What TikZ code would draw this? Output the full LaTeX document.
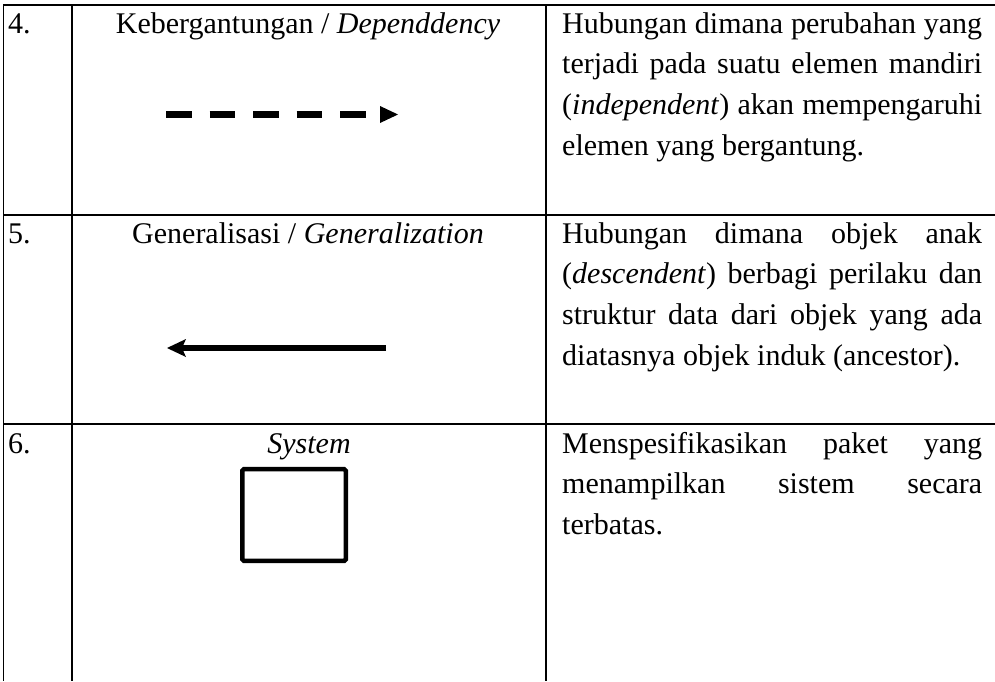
\documentclass[tikz,border=0pt]{standalone}
\usepackage{fontspec}
\setmainfont{Liberation Serif}
\usetikzlibrary{arrows.meta}
\begin{document}
\begin{tikzpicture}[x=1pt,y=-1pt,
  tablerule/.style={line width=1.7pt},
  txt/.style={inner sep=0pt, font=\fontsize{30}{40.7}\selectfont},
  numtxt/.style={txt, anchor=base west},
  headtxt/.style={txt, anchor=base},
  desctxt/.style={txt, anchor=base west},
  symline/.style={line width=6.5pt},
  sysbox/.style={draw, line width=4.5pt, rounded corners=1.5pt, inner sep=0pt,
    minimum width=103.5pt, minimum height=91.6pt}]
\useasboundingbox (0,0) rectangle (995,681);
% table rules
\draw[tablerule] (3.5,5) -- (995,5);
\draw[tablerule] (3.5,215) -- (995,215);
\draw[tablerule, line width=2.3pt] (3.5,424) -- (995,424);
\draw[tablerule] (3.5,4.15) -- (3.5,681);
\draw[tablerule] (72,5) -- (72,681);
\draw[tablerule] (546,5) -- (546,681);
% row 4
\node[numtxt] (n4) at (8,33) {4.};
\node[headtxt] (h4) at (308,33) {Kebergantungan / \textit{Dependdency}};
\coordinate (dA) at (166,114.5);
\coordinate (dB) at (398,114.5);
\draw[symline, dash pattern=on 25.5pt off 18pt,
  -{Triangle[length=18pt,width=17pt,line width=0pt]}] (dA) -- (dB);
\node[desctxt] (d4a) at (562,33) {\makebox[420pt][s]{Hubungan dimana perubahan yang}};
\node[desctxt] (d4b) at (562,73.7) {\makebox[420pt][s]{terjadi pada suatu elemen mandiri}};
\node[desctxt] (d4c) at (562,114.4) {\makebox[420pt][s]{(\textit{independent}) akan mempengaruhi}};
\node[desctxt] (d4d) at (562,155.1) {elemen yang bergantung.};
% row 5
\node[numtxt] (n5) at (8,243) {5.};
\node[headtxt] (h5) at (308,243) {Generalisasi / \textit{Generalization}};
\coordinate (gA) at (386,348);
\coordinate (gB) at (167,348);
\draw[symline, -{Stealth[length=19pt,width=18pt,inset=4pt,line width=0pt]}] (gA) -- (gB);
\node[desctxt] (d5a) at (562,243) {\makebox[420pt][s]{Hubungan dimana objek anak}};
\node[desctxt] (d5b) at (562,283.7) {\makebox[420pt][s]{(\textit{descendent}) berbagi perilaku dan}};
\node[desctxt] (d5c) at (562,324.4) {\makebox[420pt][s]{struktur data dari objek yang ada}};
\node[desctxt] (d5d) at (562,365.1) {diatasnya objek induk (ancestor).};
% row 6
\node[numtxt] (n6) at (8,453) {6.};
\node[headtxt] (h6) at (309,453) {\textit{System}};
\node[sysbox] (sys) at (294,515) {};
\node[desctxt] (d6a) at (562,453) {\makebox[420pt][s]{Menspesifikasikan paket yang}};
\node[desctxt] (d6b) at (562,493.7) {\makebox[420pt][s]{menampilkan sistem secara}};
\node[desctxt] (d6c) at (562,534.4) {terbatas.};
\end{tikzpicture}
\end{document}
